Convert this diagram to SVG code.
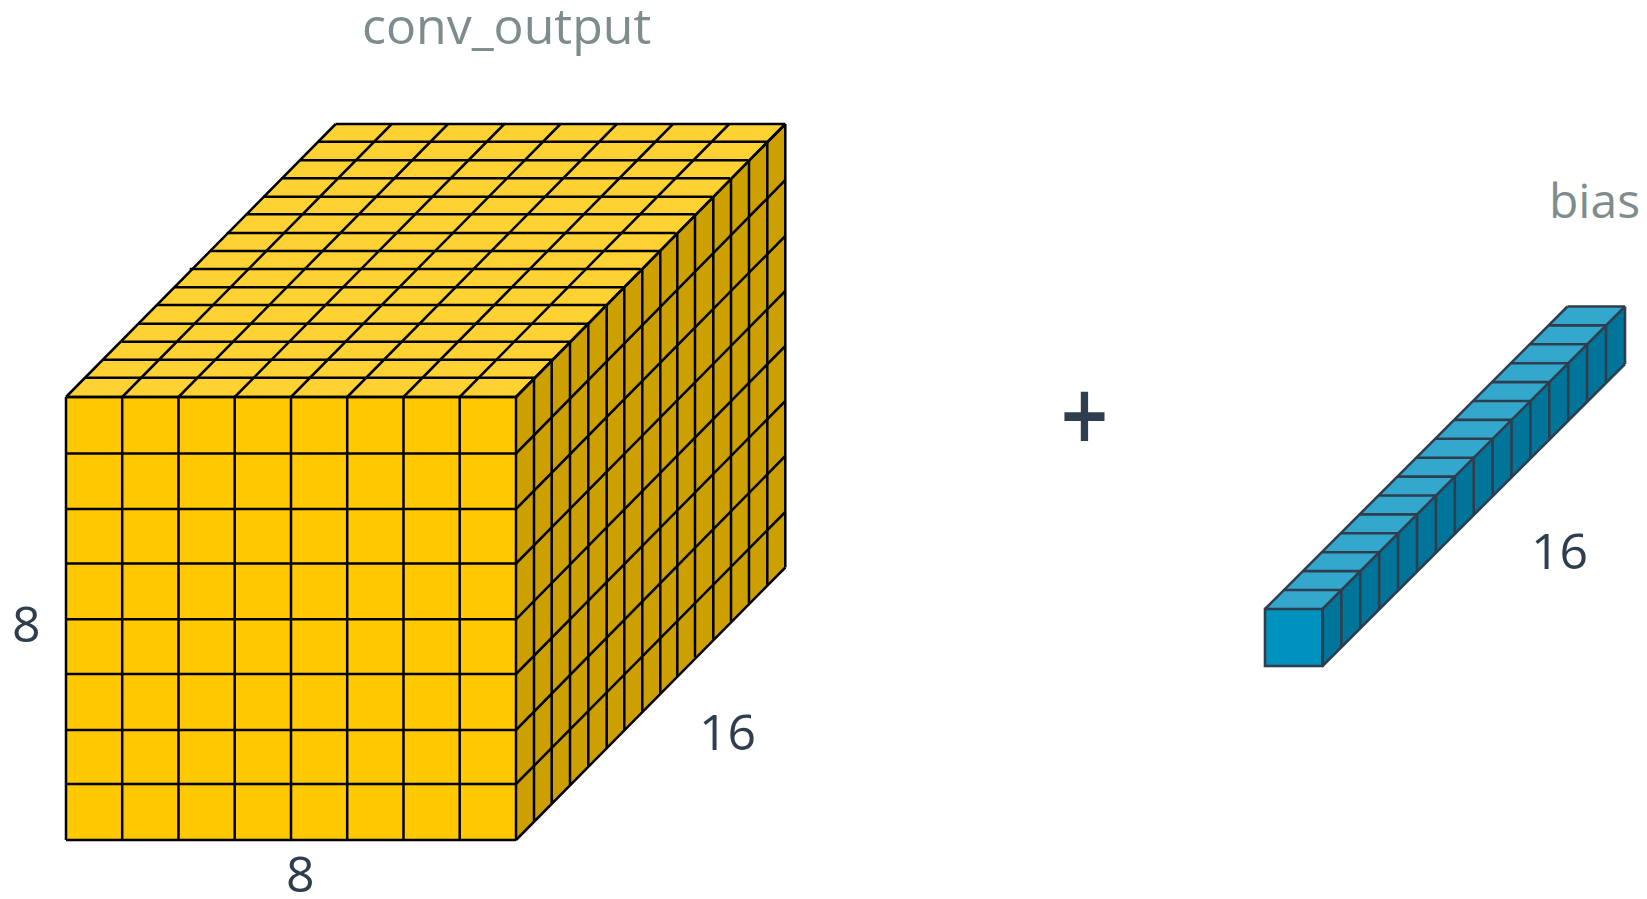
<svg xmlns="http://www.w3.org/2000/svg" width="1647" height="899" viewBox="0 0 1647 899">
<style>
text{font-family:"Open Sans","Noto Sans","Liberation Sans",sans-serif}
.lab{fill:#7f8c8d}
.dim{font-size:50px;fill:#2f3e4e}
.ln{fill:none;stroke-linejoin:miter}
.y{stroke:#000;stroke-width:2.5}
.b{stroke:#2f3e4e;stroke-width:2.6}
</style>
<rect width="1647" height="899" fill="#fff"/>
<g id="conv_output">
<polygon points="66,397 336,124 785,124 516,397" fill="#ffd233"/>
<polygon points="516,397 785,124 785,567.5 516,840" fill="#cca000"/>
<rect x="66" y="397" width="450" height="443" fill="#ffc800"/>
<path class="ln y" d="M335.7 124h449.6M318.3 141.7h449M299 160.3h449M281 178.3h449M263.3 196.7h449M245.7 214.3h449M226.7 233h449M210.7 251h449M189.7 269h451M175 287.3h449M156.7 305h449M139 323.7h449M121.7 341.7h449M103.3 359.7h449M85 377.7h449M66 397h450"/>
<path class="ln y" d="M66 397L335.7 124M122.2 397L391.7 124M178.5 397L448 124M234.7 397L504.3 124M291 397L560.5 124M347.2 397L616.8 124M403.5 397L673 124M459.7 397L729.2 124M516 397L785.3 124"/>
<path class="ln y" d="M516 397v443M534 378.5v443M551.7 360.3v443M570 342v443M588.3 324v443M606.7 305.5v443M624.3 287.3v443M642.3 269v443M660.3 251v443M677.3 233v443M695 214.3v443M713.3 196.7v443M731 178.3v443M749 160.3v443M767.3 141.7v443M785.3 124v443.5"/>
<path class="ln y" d="M516 397L785.3 124M516 453.5L785.3 180M516 509L785.3 236M516 563.5L785.3 291M516 619.3L785.3 346M516 674L785.3 401M516 730L785.3 456M516 784L785.3 512M516 840L785.3 567.5"/>
<path class="ln y" d="M66 397v443M122.2 397v443M178.5 397v443M234.7 397v443M291 397v443M347.2 397v443M403.5 397v443M459.7 397v443"/>
<path class="ln y" d="M66 397h450M66 453.5h450M66 509h450M66 563.5h450M66 619.3h450M66 674h450M66 730h450M66 784h450M66 840h450"/>
</g>
<g id="bias">
<polygon points="1265,609 1567.5,306.5 1625,306.5 1322.5,609" fill="#33a8cc"/>
<polygon points="1322.5,609 1625,306.5 1625,364 1322.5,666" fill="#007599"/>
<rect x="1265" y="609" width="57.5" height="57" fill="#0092bf"/>
<path class="ln b" d="M1567.5 306.5h57.5m-76.4 18.9h57.5m-76.4 18.9h57.5m-76.4 18.9h57.5m-76.4 18.9h57.5m-76.4 18.9h57.5m-76.4 18.9h57.5m-76.4 18.9h57.5m-76.4 18.9h57.5m-76.4 18.9h57.5m-76.4 18.9h57.5m-76.4 18.9h57.5m-76.4 18.9h57.5m-76.4 18.9h57.5m-76.4 18.9h57.5m-76.4 18.9h57.5"/>
<path class="ln b" d="M1265 609L1567.5 306.5M1322.5 609L1625 306.5M1322.5 666L1625 364"/>
<path class="ln b" d="M1322.5 609v57m18.9 -75.9v57m18.9 -75.9v57m18.9 -75.9v57m18.9 -75.9v57m18.9 -75.9v57m18.9 -75.9v57m18.9 -75.9v57m18.9 -75.9v57m18.9 -75.9v57m18.9 -75.9v57m18.9 -75.9v57m18.9 -75.9v57m18.9 -75.9v57m18.9 -75.9v57m18.9 -75.9v57M1625 306.5v57.5"/>
<rect class="ln b" x="1265" y="609" width="57.5" height="57"/>
</g>
<g id="labels">
<text class="lab" x="362" y="44" style="font-size:50px">conv_output</text>
<text class="lab" x="1549" y="218" style="font-size:48px">bias</text>
<text class="dim" x="12" y="642">8</text>
<text class="dim" x="286" y="892">8</text>
<text class="dim" x="699" y="750">16</text>
<text class="dim" x="1531" y="569">16</text>
<text transform="translate(1060.5 452) scale(1 1.2)" style="font-size:84px;font-weight:600;fill:#2f3e4e">+</text>
</g>
<g id="connectors"/>
</svg>
